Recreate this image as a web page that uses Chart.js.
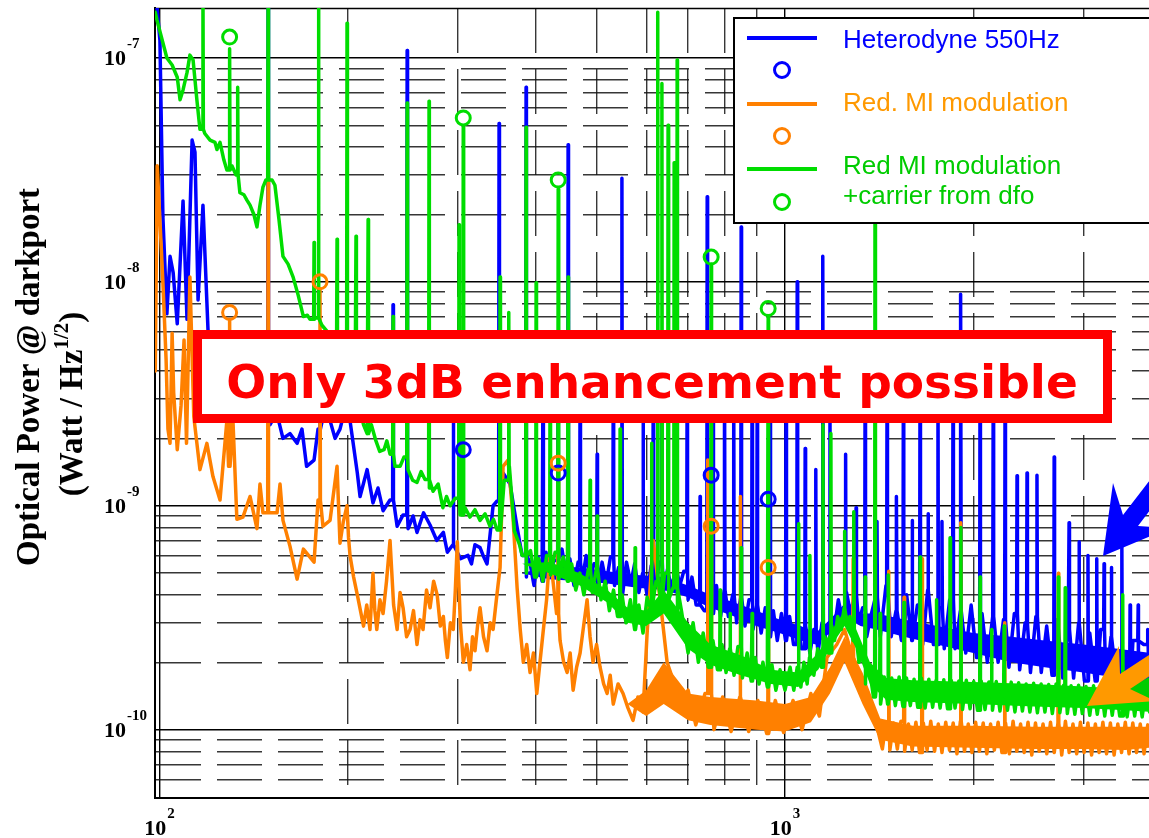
<!DOCTYPE html>
<html>
<head>
<meta charset="utf-8">
<title>Optical power at darkport</title>
<script src="https://cdn.jsdelivr.net/npm/chart.js@4.4.1/dist/chart.umd.min.js"></script>
<style>
  html, body { margin: 0; padding: 0; background: #fff; }
  canvas { display: block; }
</style>
</head>
<body>
<canvas id="spectrum" width="1149" height="838"></canvas>
<script>
// axis ranges: frequency in Hz, amplitude in Watt/sqrt(Hz)
const freqRange = [98.4, 3818];
const powerRange = [4.95e-11, 1.672e-7];
const xGrid = [100, 200, 300, 400, 500, 600, 700, 800, 900, 1000, 2000, 3000];
const yGrid = [6e-11, 7e-11, 8e-11, 9e-11,
  1e-10, 2e-10, 3e-10, 4e-10, 5e-10, 6e-10, 7e-10, 8e-10, 9e-10,
  1e-9, 2e-9, 3e-9, 4e-9, 5e-9, 6e-9, 7e-9, 8e-9, 9e-9,
  1e-8, 2e-8, 3e-8, 4e-8, 5e-8, 6e-8, 7e-8, 8e-8, 9e-8, 1e-7];
const xLabels = [100, 1000];
const yLabels = [1e-10, 1e-9, 1e-8, 1e-7];

// Heterodyne 550Hz: noise floor [Hz, value] and the narrow lines on top of it
const heterodyneFloor = [
  [98.5,1.7e-7],[99.1,1.7e-7],[100.2,1.2e-7],[101.3,1.95e-8],[102.8,7.2e-9],[104.0,1.3e-8],[105.2,1.1e-8],
  [106.8,6.5e-9],[109.1,2.3e-8],[110.7,6.8e-9],[112.8,4.3e-8],[114.0,3.8e-8],[115.3,8.3e-9],[117.4,2.2e-8],
  [119.6,6.1e-9],[122.7,4.8e-9],[127.3,4.0e-9],[132.1,3.4e-9],[137.0,2.9e-9],[144.8,2.4e-9],[147.5,2.8e-9],
  [150.2,2.3e-9],[154,2.6e-9],[157.6,2.0e-9],[161.7,2.1e-9],[166.0,1.9e-9],[169,2.2e-9],[171.9,1.5e-9],
  [176.7,1.6e-9],[179.3,2.2e-9],[183.3,2.6e-9],[187.4,2.4e-9],[190.9,2.0e-9],[194.4,2.2e-9],[198,2.7e-9],
  [201.7,2.4e-9],[207.2,1.4e-9],[209.3,1.1e-9],[214.8,1.45e-9],[219.5,1.03e-9],[223.6,1.2e-9],[227.8,9.5e-10],
  [233.7,1.06e-9],[239.9,8.1e-10],[245.2,9.1e-10],[249.8,7.9e-10],[254.4,9.0e-10],[258.1,7.6e-10],[264.4,9.3e-10],
  [270.8,8.2e-10],[277.6,7.0e-10],[284.4,7.6e-10],[288.6,6.2e-10],[295.0,6.7e-10],[303,5.8e-10],[311.4,6.0e-10],
  [315.4,5.5e-10],[319.5,6.7e-10],[325.5,6.5e-10],[330,5.9e-10],[334.0,5.5e-10],[341.5,1.0e-9],
  [346.6,1.05e-9],[354.3,1.4e-9],[363.5,1.25e-9],[373.1,8.0e-10],
  [380,6.0e-10],[386,4.8e-10],[391,5.6e-10],[397,4.4e-10],[403,5.9e-10],[409,4.6e-10],[415,6.2e-10],[421,4.8e-10],
  [427,5.7e-10],[434,4.5e-10],[440,6.4e-10],[447,4.9e-10],[453,5.8e-10],[460,4.4e-10],[467,5.6e-10],[474,4.6e-10],
  [481,6.0e-10],[488,4.7e-10],[495,5.5e-10],[503,4.2e-10],[510,5.6e-10],[518,4.5e-10],[526,5.9e-10],[534,4.4e-10],
  [542,5.3e-10],[550,4.0e-10],[558,5.6e-10],[567,4.5e-10],[575,5.5e-10],[584,4.1e-10],[593,5.0e-10],[602,4.0e-10],
  [611,5.4e-10],[620,4.3e-10],[630,5.6e-10],[639,4.1e-10],[649,5.2e-10],[659,4.2e-10],[669,5.4e-10],[679,4.4e-10],
  [689,5.1e-10],[700,3.8e-10],[710,4.8e-10],[721,3.6e-10],[732,4.6e-10],[743,3.4e-10],[754,4.5e-10],[765,3.3e-10],
  [777,4.4e-10],[789,3.2e-10],[800,4.2e-10],[812,3.2e-10],[825,4.0e-10],[837,3.0e-10],[850,3.9e-10],[863,2.9e-10],
  [876,3.8e-10],[889,2.8e-10],[902,3.6e-10],[916,2.7e-10],[930,3.5e-10],[944,2.6e-10],[958,3.4e-10],[972,2.5e-10],
  [987,3.3e-10],[1002,2.5e-10],[1017,3.2e-10],[1032,2.4e-10],[1048,3.1e-10],[1063,2.3e-10],[1079,2.9e-10],
  [1096,2.2e-10],[1112,2.8e-10],[1129,2.2e-10],[1146,3.0e-10],[1163,2.5e-10],[1181,3.4e-10],[1199,2.8e-10],
  [1217,3.8e-10],[1235,3.1e-10],[1254,4.1e-10],[1273,3.3e-10],[1292,4.0e-10],[1311,3.0e-10],[1331,3.5e-10],
  [1351,2.6e-10],[1371,3.2e-10],
  [1395,3.9e-10],[1420,2.6e-10],[1450,4.4e-10],[1478,2.6e-10],[1505,3.4e-10],[1535,2.5e-10],[1565,4.0e-10],
  [1596,2.5e-10],[1628,3.6e-10],[1660,2.4e-10],[1693,4.2e-10],[1727,2.4e-10],[1762,3.5e-10],[1797,2.3e-10],
  [1833,3.8e-10],[1870,2.3e-10],[1907,3.4e-10],[1945,2.2e-10],[1984,3.6e-10],[2024,2.1e-10],[2065,3.3e-10],
  [2106,2.0e-10],[2148,3.2e-10],[2191,2.0e-10],[2235,3.1e-10],[2280,1.9e-10],[2326,3.3e-10],[2372,1.85e-10],
  [2420,3.0e-10],[2468,1.8e-10],[2518,3.2e-10],[2568,1.8e-10],[2620,2.9e-10],[2672,1.75e-10],[2726,3.1e-10],
  [2780,1.7e-10],[2836,2.8e-10],[2893,1.7e-10],[2951,3.0e-10],[3010,1.65e-10],[3070,2.7e-10],[3132,1.65e-10],
  [3195,2.8e-10],[3259,1.6e-10],[3324,2.6e-10],[3391,1.6e-10],[3459,2.7e-10],[3528,1.55e-10],[3599,2.5e-10],
  [3671,1.55e-10],[3745,2.4e-10],[3820,1.5e-10]
];
const heterodyneLines = [
  [149.2,2e-7],[180.6,4e-9],[236.3,7.9e-9],[248.9,1.08e-7],[295.0,4e-9],[349.1,5.1e-8],[385.6,7.4e-8],
  [410.4,4e-9],[433.8,4.5e-9],[450.1,4.1e-8],[470.4,4e-9],[500.8,1.7e-9],[531.5,4.5e-9],[548.7,2.9e-8],
  [593.1,4e-9],[615.8,5e-9],[635.7,4e-9],[697.5,3.5e-9],[731.6,1.1e-9],[751,2.4e-8],[767.4,4.5e-9],
  [800.7,5e-9],[828,4e-9],[851,1.76e-8],[886,5.5e-9],[902.7,4e-9],[946.7,5e-9],[1004,4.5e-9],[1046,1.0e-8],
  [1077,1.8e-9],[1120,1.45e-9],[1150,1.3e-8],[1180,4e-9],[1250,1.7e-9],[1299,9.8e-10],[1343,4.5e-9],
  [1403,8.5e-10],[1456,3.8e-9],[1508,1.1e-9],[1546,4.2e-9],[1597,8.6e-10],[1644,4.6e-9],[1693,9.2e-10],
  [1756,4.8e-9],[1782,8.5e-10],[1856,4.1e-9],[1910,8.8e-9],[2050,4.4e-9],[2152,3.8e-9],[2248,4.3e-9],
  [2349,1.36e-9],[2437,1.4e-9],[2528,1.37e-9],[2693,1.65e-9],[2845,8.4e-10],[2951,6.9e-10],[3050,6.0e-10],
  [3150,5.8e-10],[3236,5.5e-10],[3325,5.3e-10],[3455,6.7e-10],[3561,3.6e-10],[3669,3.6e-10],[3800,2.8e-10]
];
const heterodyneBandFreq = [380, 420, 470, 520, 580, 640, 700, 760, 830, 900, 980, 1060, 1120, 1180, 1250, 1320, 1400, 1550, 1750, 2000, 2300, 2600, 3000, 3400, 3830];
const heterodyneBandHigh = [5.0e-10, 5.4e-10, 5.3e-10, 5.1e-10, 4.9e-10, 4.8e-10, 4.4e-10, 4.0e-10, 3.7e-10, 3.4e-10, 3.1e-10, 2.9e-10, 2.7e-10, 3.1e-10, 3.7e-10, 3.3e-10, 3.3e-10, 3.1e-10, 2.9e-10, 2.7e-10, 2.6e-10, 2.5e-10, 2.4e-10, 2.3e-10, 2.2e-10];
const heterodyneBandLow = [5.0e-10, 4.7e-10, 4.6e-10, 4.5e-10, 4.3e-10, 4.2e-10, 3.9e-10, 3.5e-10, 3.2e-10, 2.9e-10, 2.7e-10, 2.5e-10, 2.4e-10, 2.7e-10, 3.2e-10, 2.9e-10, 2.8e-10, 2.6e-10, 2.4e-10, 2.2e-10, 2.0e-10, 1.9e-10, 1.8e-10, 1.7e-10, 1.6e-10];
const heterodyneRings = [[306,1.78e-9],[434,1.4e-9],[762,1.37e-9],[940,1.07e-9]];

// Red. MI modulation
const redFloor = [
  [98.5,4.0e-9],[99.2,3.3e-8],[100.6,1.5e-8],[101.3,1.0e-8],[102.5,4.5e-9],[103.2,2.2e-9],[104.0,1.9e-9],
  [104.8,5.9e-9],[105.4,3.2e-9],[106.8,1.78e-9],[108.3,2.8e-9],[109.5,5.5e-9],[110.5,1.9e-9],[111.9,1.05e-8],
  [113.5,2.5e-9],[116.1,1.45e-9],[119.1,1.9e-9],[121.8,1.35e-9],[125.0,1.06e-9],[128.2,2.4e-9],[129.0,1.5e-9],
  [131.1,2.4e-9],[133.0,8.7e-10],[136.0,8.9e-10],[139.6,1.1e-9],[143.2,7.9e-10],[144.8,1.25e-9],[146.4,9.3e-10],
  [154.2,9.3e-10],[155.9,1.25e-9],[157.6,8.6e-10],[161.7,6.6e-10],[166.0,4.7e-10],[169.9,6.4e-10],[176.7,5.6e-10],
  [179.3,1.06e-9],[182.6,8.1e-10],[187.4,8.6e-10],[192.3,1.5e-9],[194.4,6.8e-10],[196.8,8.5e-10],[199.5,1.0e-9],
  [200.6,7.2e-10],[201.7,6.0e-10],[204.4,4.8e-10],[207.2,4.0e-10],[209.6,3.4e-10],[212.0,2.9e-10],[214.5,3.6e-10],
  [217.1,2.8e-10],[219.5,5.0e-10],[221.0,3.4e-10],[222.6,2.8e-10],[225.2,3.8e-10],[227.8,3.3e-10],[230.7,4.6e-10],
  [233.7,7.0e-10],[236.8,3.6e-10],[239.9,2.8e-10],[242.5,4.1e-10],[245.2,3.5e-10],[248.4,2.6e-10],[251.6,2.8e-10],
  [254.8,3.4e-10],[258.1,2.4e-10],[261,3.1e-10],[263.9,2.8e-10],[267.3,4.2e-10],[270.8,3.5e-10],[274.4,4.6e-10],
  [278.0,4.0e-10],[281.2,2.9e-10],[284.4,3.2e-10],[286.5,2.5e-10],[288.6,2.1e-10],[291.8,3.0e-10],[295.0,2.8e-10],
  [297.2,4.2e-10],[299.4,6.9e-10],[302.7,3.0e-10],[306.1,2.0e-10],[309.9,2.4e-10],[313.7,1.85e-10],[316.6,2.6e-10],
  [319.5,2.25e-10],[322.5,2.9e-10],[325.5,3.5e-10],[329.7,2.6e-10],[334.0,2.25e-10],[337.8,3.0e-10],[341.5,2.8e-10],
  [346,3.9e-10],[350.4,5.3e-10],[354.3,1.5e-9],[360.8,1.6e-9],[367.5,8.9e-10],[373.1,4.3e-10],[377.4,2.8e-10],
  [381.7,2.0e-10],[386.5,2.4e-10],[391.3,1.8e-10],[396.2,2.2e-10],[401.1,1.45e-10],[405.8,2.0e-10],[410.4,2.7e-10],
  [415.8,3.8e-10],[421.2,6.3e-10],[425.8,4.6e-10],[431.4,3.3e-10],[437.0,2.5e-10],[442.8,2.0e-10],[448.5,1.8e-10],
  [453.5,2.2e-10],[458.5,1.5e-10],[464.4,1.9e-10],[470.4,2.2e-10],[476.5,2.9e-10],[482.7,3.8e-10],[488,2.6e-10],
  [493.4,2.0e-10],[499.8,2.4e-10],[506.3,1.9e-10],[513,1.6e-10],[519.6,1.45e-10],[525.5,1.75e-10],[531.5,1.3e-10],
  [541,1.6e-10],[551.0,1.45e-10],[561,1.25e-10],[571.6,1.1e-10],[582,1.4e-10],[593.1,1.2e-10],[602.0,2.7e-10],
  [615.8,7.0e-10],[631.5,3.8e-10],[648.0,2.0e-10],[679.7,1.35e-10],[700,1.5e-10],[720,1.05e-10],[745,1.45e-10],
  [770,1.0e-10],[795,1.4e-10],[820,9.8e-11],[848,1.4e-10],[875,9.8e-11],[905,1.35e-10],[935,9.6e-11],[965,1.35e-10],
  [995,9.7e-11],[1030,1.35e-10],[1065,1.0e-10],[1100,1.45e-10],[1135,1.15e-10],[1167,2.1e-10],[1210,2.4e-10],
  [1245,2.8e-10],[1284,2.1e-10],[1333,1.45e-10],[1403,1.03e-10],[1431,8.2e-11],[1451,1.08e-10],[1471,8.1e-11],
  [1491,1.07e-10],[1512,8.2e-11],[1532,1.09e-10],[1554,8.0e-11],[1575,1.06e-10],[1597,8.1e-11],[1619,1.08e-10],
  [1641,7.9e-11],[1664,1.07e-10],[1687,8.1e-11],[1710,1.09e-10],[1734,8.0e-11],[1758,1.06e-10],[1782,7.9e-11],
  [1807,1.08e-10],[1832,8.1e-11],[1857,1.07e-10],[1883,7.8e-11],[1909,1.09e-10],[1936,8.0e-11],[1963,1.06e-10],
  [1990,7.9e-11],[2017,1.08e-10],[2045,8.0e-11],[2074,1.07e-10],[2102,7.8e-11],[2131,1.06e-10],[2161,8.1e-11],
  [2191,1.08e-10],[2222,7.9e-11],[2252,1.07e-10],[2284,7.8e-11],[2315,1.09e-10],[2347,8.0e-11],[2380,1.06e-10],
  [2412,7.9e-11],[2446,1.08e-10],[2480,7.7e-11],[2514,1.07e-10],[2549,8.0e-11],[2585,1.06e-10],[2621,7.8e-11],
  [2657,1.08e-10],[2694,7.9e-11],[2731,1.07e-10],[2769,7.7e-11],[2807,1.09e-10],[2846,7.9e-11],[2886,1.06e-10],
  [2926,7.8e-11],[2966,1.08e-10],[3007,7.9e-11],[3049,1.07e-10],[3091,7.7e-11],[3134,1.06e-10],[3178,7.9e-11],
  [3222,1.08e-10],[3266,7.8e-11],[3312,1.07e-10],[3358,7.7e-11],[3404,1.06e-10],[3451,7.9e-11],[3499,1.08e-10],
  [3548,7.8e-11],[3597,1.07e-10],[3647,7.9e-11],[3697,1.06e-10],[3749,7.8e-11],[3800,1.05e-10],[3826,8.5e-11]
];
const redLines = [
  [129.5,6.8e-9],[149.2,3.0e-8],[180.6,9.3e-9],[434,1.46e-9],[752,1.6e-9],[762,7.5e-10],[848,1.1e-9],
  [940,4.9e-10],[1285,5.8e-10],[1465,5.1e-10],[1550,3.9e-10],[1656,5.8e-10],[1910,8.4e-10],[2245,3.0e-10],
  [2735,5.0e-10]
];
const redBandFreq = [560, 600, 640, 700, 760, 900, 1000, 1100, 1180, 1245, 1330, 1420, 1600, 2000, 2500, 3000, 3500, 3830];
const redBandHigh = [1.3e-10, 1.5e-10, 2.0e-10, 1.45e-10, 1.4e-10, 1.35e-10, 1.3e-10, 1.4e-10, 1.9e-10, 2.6e-10, 1.8e-10, 1.12e-10, 1.04e-10, 1.04e-10, 1.03e-10, 1.03e-10, 1.03e-10, 1.03e-10];
const redBandLow = [1.3e-10, 1.15e-10, 1.3e-10, 1.1e-10, 1.05e-10, 1.0e-10, 9.8e-11, 1.08e-10, 1.45e-10, 2.0e-10, 1.3e-10, 9.0e-11, 8.4e-11, 8.3e-11, 8.2e-11, 8.2e-11, 8.1e-11, 8.3e-11];
const redRings = [[129.5,7.3e-9],[180.6,1.0e-8],[434,1.55e-9],[762,8.1e-10],[940,5.3e-10]];

// Red MI modulation + carrier from dfo
const carrierFloor = [
  [98.5,1.6e-7],[99.1,1.48e-7],[102.8,1.0e-7],[104.8,9.3e-8],[106.8,8.2e-8],[107.9,6.5e-8],[109.1,7.2e-8],
  [110.7,8.6e-8],[111.9,1.03e-7],[113.2,9.8e-8],[114.8,6.5e-8],[116.1,4.8e-8],[118.2,4.6e-8],[120.5,4.3e-8],
  [122.7,4.2e-8],[123.6,3.9e-8],[125.0,4.2e-8],[126.8,3.5e-8],[128.2,3.16e-8],[130.6,3.3e-8],[132.6,3.0e-8],
  [134.5,2.5e-8],[136.5,2.45e-8],[138.0,2.32e-8],[139.6,2.2e-8],[141.6,2.0e-8],[143.2,1.76e-8],[144.8,2.2e-8],
  [146.4,2.65e-8],[148.0,2.85e-8],[151.4,2.85e-8],[153.0,2.7e-8],[155.3,1.9e-8],[157.6,1.3e-8],[160.6,1.2e-8],
  [163.6,1.05e-8],[166.7,8.7e-9],[169.9,7.0e-9],[172.4,7.1e-9],[174.1,6.8e-9],[177.4,6.9e-9],[181.9,6.4e-9],
  [187.4,5.8e-9],[194.4,4.7e-9],[201.7,3.7e-9],[205.5,3.1e-9],[209.3,2.7e-9],[212,2.3e-9],[214.8,2.1e-9],
  [218.2,2.3e-9],[221.6,1.97e-9],[225,1.75e-9],[228.6,1.78e-9],[231,1.95e-9],[233.7,1.7e-9],[238,1.5e-9],
  [242.5,1.5e-9],[246,1.65e-9],[249.7,1.45e-9],[254,1.3e-9],[258.1,1.27e-9],[262,1.42e-9],[265.8,1.31e-9],
  [270,1.2e-9],[273.8,1.16e-9],[279,1.25e-9],[283.9,9.8e-10],[287.7,1.1e-9],[291.5,1.0e-9],[297,1.08e-9],
  [302.4,9.1e-10],[308,9.8e-10],[313.7,8.9e-10],[319.5,9.6e-10],[325.5,8.6e-10],[331.6,9.2e-10],[337.7,8.1e-10],
  [342,8.7e-10],[346.6,7.8e-10],[355.8,1.3e-9],[362.6,1.5e-9],[369.4,7.7e-10],[376.4,6.7e-10],
  [380,6.0e-10],[386,5.0e-10],[392,6.3e-10],[398,4.8e-10],[404,5.8e-10],[410,4.6e-10],[416,6.0e-10],[422,4.9e-10],
  [429,6.2e-10],[435,4.7e-10],[442,5.9e-10],[449,4.6e-10],[456,5.5e-10],[463,4.2e-10],[470,5.0e-10],[477,4.0e-10],
  [485,5.2e-10],[492,4.1e-10],[500,5.3e-10],[508,3.8e-10],[516,4.6e-10],[524,3.4e-10],[532,4.2e-10],[540,3.2e-10],
  [549,4.0e-10],[557,3.0e-10],[566,3.8e-10],[575,2.8e-10],[584,3.6e-10],[593,2.7e-10],[602,3.9e-10],[612,3.4e-10],
  [622,4.6e-10],[632,3.9e-10],[642,5.0e-10],[652,3.8e-10],[662,4.3e-10],[673,3.2e-10],[683,3.4e-10],
  [700,2.2e-10],[713,3.0e-10],[727,2.0e-10],
  [740,2.7e-10],[754,1.9e-10],[767,2.5e-10],[780,1.85e-10],[793,2.4e-10],[805,1.8e-10],[817,2.3e-10],
  [829,1.75e-10],[841,2.35e-10],[855,1.7e-10],[870,2.2e-10],[883,1.65e-10],[896,2.1e-10],[909,1.6e-10],
  [922,2.0e-10],[937,1.55e-10],[953,1.95e-10],[967,1.5e-10],[982,1.85e-10],[1000,1.5e-10],[1019,1.9e-10],
  [1033,1.5e-10],[1046,1.9e-10],[1060,1.55e-10],[1072,2.0e-10],[1085,1.6e-10],[1096,2.1e-10],[1112,1.75e-10],
  [1128,2.3e-10],[1143,1.9e-10],[1158,2.6e-10],[1173,2.2e-10],[1188,2.9e-10],[1200,2.5e-10],[1214,3.2e-10],
  [1230,2.8e-10],[1245,3.5e-10],[1258,2.9e-10],[1270,3.2e-10],[1285,2.5e-10],[1299,2.6e-10],[1313,2.0e-10],
  [1328,2.1e-10],[1345,1.6e-10],[1367,1.8e-10],[1385,1.4e-10],[1403,1.65e-10],[1422,1.3e-10],[1441,1.72e-10],
  [1461,1.3e-10],[1481,1.7e-10],[1501,1.28e-10],[1522,1.72e-10],[1543,1.27e-10],[1564,1.7e-10],[1586,1.28e-10],
  [1608,1.68e-10],[1630,1.26e-10],[1652,1.7e-10],[1675,1.25e-10],[1698,1.68e-10],[1722,1.26e-10],[1746,1.66e-10],
  [1770,1.25e-10],[1794,1.67e-10],[1819,1.24e-10],[1844,1.66e-10],[1870,1.25e-10],[1896,1.65e-10],[1922,1.23e-10],
  [1949,1.66e-10],[1976,1.24e-10],[2003,1.64e-10],[2031,1.22e-10],[2059,1.65e-10],[2088,1.23e-10],[2117,1.63e-10],
  [2146,1.22e-10],[2176,1.64e-10],[2206,1.21e-10],[2237,1.62e-10],[2268,1.22e-10],[2299,1.63e-10],[2331,1.2e-10],
  [2363,1.62e-10],[2396,1.21e-10],[2429,1.6e-10],[2463,1.2e-10],[2497,1.61e-10],[2532,1.19e-10],[2567,1.6e-10],
  [2603,1.2e-10],[2639,1.59e-10],[2675,1.18e-10],[2712,1.6e-10],[2750,1.19e-10],[2788,1.58e-10],[2827,1.18e-10],
  [2866,1.57e-10],[2906,1.17e-10],[2946,1.58e-10],[2987,1.18e-10],[3028,1.56e-10],[3070,1.16e-10],[3113,1.57e-10],
  [3156,1.17e-10],[3200,1.55e-10],[3244,1.15e-10],[3289,1.56e-10],[3335,1.16e-10],[3381,1.54e-10],[3428,1.15e-10],
  [3475,1.55e-10],[3523,1.14e-10],[3572,1.53e-10],[3622,1.15e-10],[3672,1.52e-10],[3723,1.14e-10],[3774,1.5e-10],
  [3826,1.2e-10]
];
const carrierLines = [
  [117.4,2e-7],[129.5,1.1e-7],[133.4,7.4e-8],[149.2,2e-7],[176.7,1.5e-8],[179.6,2e-7],[192.3,1.55e-8],
  [199.5,1.43e-7],[206.2,1.6e-8],[215.6,1.9e-8],[236.3,7e-9],[248.9,6.3e-8],[269.8,6.4e-8],[301.3,1.8e-8],
  [306,4.9e-8],[350.4,1.05e-8],[361.8,7.3e-9],[385.6,4.9e-8],[400.1,9.9e-9],[421.2,4e-9],[434,2.6e-8],
  [450.1,1.05e-8],[488,1.3e-9],[500.8,9e-10],[545,2.2e-9],[576,6.5e-10],[612,1.9e-9],[626,1.6e-7],
  [635.7,7.7e-8],[650.3,5e-8],[665,3.4e-8],[672.4,9.8e-8],[762,1.2e-8],[787.5,4.2e-10],[817,3.3e-10],
  [851,6.5e-10],[886,3.3e-10],[940,7e-9],[1051,8.3e-10],[1096,6e-10],[1150,2.3e-9],[1184,2.1e-9],
  [1245,7.7e-10],[1289,9.4e-10],[1343,4.8e-10],[1393,5e-8],[1419,3.3e-10],[1461,4.9e-10],[1550,3.7e-10],
  [1644,5.9e-10],[1746,3.8e-10],[1836,7.2e-10],[1910,8e-10],[2050,4.8e-10],[2139,2.8e-10],[2240,2.9e-10],
  [2735,4.8e-10],[2805,4.3e-10],[3466,4e-10]
];
const carrierBandFreq = [380, 420, 470, 520, 560, 600, 640, 700, 760, 850, 950, 1050, 1130, 1190, 1245, 1300, 1367, 1450, 1600, 2000, 2500, 3000, 3500, 3830];
const carrierBandHigh = [5.5e-10, 5.6e-10, 5.0e-10, 4.2e-10, 3.5e-10, 3.4e-10, 4.2e-10, 3.0e-10, 2.4e-10, 2.15e-10, 1.85e-10, 1.8e-10, 2.2e-10, 2.8e-10, 3.4e-10, 2.8e-10, 2.0e-10, 1.7e-10, 1.66e-10, 1.63e-10, 1.6e-10, 1.56e-10, 1.52e-10, 1.5e-10];
const carrierBandLow = [5.5e-10, 5.0e-10, 4.4e-10, 3.7e-10, 3.0e-10, 2.9e-10, 3.3e-10, 2.3e-10, 1.95e-10, 1.75e-10, 1.6e-10, 1.55e-10, 1.85e-10, 2.4e-10, 2.9e-10, 2.3e-10, 1.6e-10, 1.36e-10, 1.33e-10, 1.3e-10, 1.27e-10, 1.25e-10, 1.22e-10, 1.2e-10];
const carrierRings = [[129.5,1.24e-7],[306,5.4e-8],[434,2.85e-8],[762,1.29e-8],[940,7.6e-9]];

const BLUE = '#0000ff', ORANGE = '#ff8000', GREEN = '#00dd00';

const legendRows = [
  { kind: 'line', color: BLUE, text: 'Heterodyne 550Hz', textColor: '#0000ff' },
  { kind: 'ring', color: BLUE },
  { kind: 'line', color: ORANGE, text: 'Red. MI modulation', textColor: '#ff9900' },
  { kind: 'ring', color: ORANGE },
  { kind: 'line', color: GREEN, text: 'Red MI modulation', textColor: '#00cc00' },
  { kind: 'ring', color: GREEN, text: '+carrier from dfo', textColor: '#00cc00' }
];

// floor points plus a thin rise for every line, all sorted by frequency
function trace(floor, lines) {
  const pts = floor.map(([x, y]) => ({ x, y }));
  for (const [f, peak] of lines) {
    let foot = floor[0][1];
    for (const [ff, v] of floor) { if (ff <= f) foot = v; else break; }
    pts.push({ x: f * 0.9985, y: foot }, { x: f, y: peak }, { x: f * 1.0015, y: foot });
  }
  return pts.sort((a, b) => a.x - b.x);
}
const toPoints = list => list.map(([x, y]) => ({ x, y }));
const zipBand = (freqs, vals) => freqs.map((x, i) => ({ x, y: vals[i] }));

function lineSet(data, color, order) {
  return {
    data, order, showLine: true, borderColor: color, backgroundColor: color,
    borderWidth: 3.5, pointRadius: 0, pointHoverRadius: 0,
    borderJoinStyle: 'round', borderCapStyle: 'round', fill: false
  };
}
// solid core of the dense noise, filled between an upper and a lower edge
function bandSets(freqs, hi, lo, color, order) {
  const edge = { showLine: true, pointRadius: 0, borderWidth: 1, borderColor: 'rgba(0,0,0,0)', order };
  return [
    Object.assign({ data: zipBand(freqs, hi), fill: false }, edge),
    Object.assign({ data: zipBand(freqs, lo), fill: '-1', backgroundColor: color }, edge)
  ];
}
function ringSet(list, color, order) {
  return {
    data: toPoints(list), order, showLine: false, pointStyle: 'circle',
    pointRadius: 7, pointBorderWidth: 3, borderColor: color,
    pointBorderColor: color, pointBackgroundColor: 'rgba(0,0,0,0)'
  };
}

const isDecade = v => Math.abs(Math.log10(v) - Math.round(Math.log10(v))) < 1e-6;
const gridColor = c => (c.tick && isDecade(c.tick.value)) ? '#000' : 'rgba(20,20,20,0.85)';
const gridDash = c => (c.tick && !isDecade(c.tick.value)) ? [45, 16] : [];

function arrow(ctx, color, pts) {
  ctx.fillStyle = color;
  ctx.beginPath();
  ctx.moveTo(pts[0][0], pts[0][1]);
  for (let i = 1; i < pts.length; i++) ctx.lineTo(pts[i][0], pts[i][1]);
  ctx.closePath();
  ctx.fill();
}

function powerOfTen(ctx, exp, x, base, align) {
  ctx.font = 'bold 22px "Liberation Serif"';
  const w1 = ctx.measureText('10').width;
  ctx.font = 'bold 15px "Liberation Serif"';
  const w2 = ctx.measureText(exp).width;
  const start = align === 'center' ? x - (w1 + w2 + 1) / 2 : x;
  ctx.textAlign = 'left';
  ctx.font = 'bold 22px "Liberation Serif"';
  ctx.fillText('10', start, base);
  ctx.font = 'bold 15px "Liberation Serif"';
  ctx.fillText(exp, start + w1 + 1, base - 17);
}

const decorations = {
  id: 'decorations',
  beforeDatasetsDraw(chart) {
    const { ctx, chartArea: a } = chart;
    ctx.save();
    ctx.strokeStyle = '#000';
    ctx.lineWidth = 1.5;
    ctx.beginPath();
    ctx.moveTo(a.left, a.top + 0.5);
    ctx.lineTo(a.right, a.top + 0.5);
    ctx.stroke();
    ctx.restore();
  },
  afterDatasetsDraw(chart) {
    const { ctx } = chart;
    ctx.save();

    // statement box
    ctx.fillStyle = '#fff';
    ctx.fillRect(193, 330, 919, 93);
    ctx.strokeStyle = '#ff0000';
    ctx.lineWidth = 9;
    ctx.strokeRect(197.5, 334.5, 910, 84);
    ctx.fillStyle = '#ff0000';
    ctx.font = 'bold 47px "DejaVu Sans"';
    ctx.textAlign = 'center';
    ctx.textBaseline = 'alphabetic';
    ctx.fillText('Only 3dB enhancement possible', 652, 398);

    // legend
    ctx.fillStyle = '#fff';
    ctx.fillRect(733, 18, 430, 205);
    ctx.strokeStyle = '#000';
    ctx.lineWidth = 2;
    ctx.strokeRect(734, 18, 430, 205);
    const rowY = [38, 70, 104, 136, 169, 202];
    const textY = [48, null, 111, null, 174, 204];
    legendRows.forEach((row, i) => {
      ctx.strokeStyle = row.color;
      if (row.kind === 'line') {
        ctx.lineWidth = 4;
        ctx.beginPath();
        ctx.moveTo(747, rowY[i]);
        ctx.lineTo(817, rowY[i]);
        ctx.stroke();
      } else {
        ctx.lineWidth = 3;
        ctx.beginPath();
        ctx.arc(782, rowY[i], 7.5, 0, Math.PI * 2);
        ctx.stroke();
      }
      if (row.text) {
        ctx.fillStyle = row.textColor;
        ctx.font = '26px "Liberation Sans"';
        ctx.textAlign = 'left';
        ctx.fillText(row.text, 843, textY[i]);
      }
    });

    // pointers at the right edge
    arrow(ctx, '#00cc00', [[1126, 689], [1175, 664], [1175, 714]]);
    arrow(ctx, '#ff9900', [[1087, 706], [1119, 646], [1120, 674], [1245, 592], [1255, 607], [1130, 689], [1155, 701]]);
    arrow(ctx, '#0000ff', [[1103, 556], [1113, 483], [1123, 515], [1215, 396], [1229, 407], [1138, 526], [1170, 528]]);
    ctx.restore();
  },
  afterDraw(chart) {
    const { ctx, scales: { x, y } } = chart;
    ctx.save();
    ctx.fillStyle = '#000';
    ctx.textBaseline = 'alphabetic';
    yLabels.forEach(v => {
      powerOfTen(ctx, String(Math.round(Math.log10(v))), 104, y.getPixelForValue(v) + 7, 'left');
    });
    xLabels.forEach(v => {
      powerOfTen(ctx, String(Math.round(Math.log10(v))), x.getPixelForValue(v), 835, 'center');
    });

    // axis title, two rotated lines
    ctx.font = 'bold 33px "Liberation Serif"';
    ctx.translate(39, 377);
    ctx.rotate(-Math.PI / 2);
    ctx.textAlign = 'center';
    ctx.fillText('Optical Power @ darkport', 0, 0);
    ctx.rotate(Math.PI / 2);
    ctx.translate(-39, -377);

    ctx.translate(82, 404);
    ctx.rotate(-Math.PI / 2);
    ctx.textAlign = 'left';
    const partA = '(Watt / Hz', partB = '1/2', partC = ')';
    ctx.font = 'bold 33px "Liberation Serif"';
    const wa = ctx.measureText(partA).width, wc = ctx.measureText(partC).width;
    ctx.font = 'bold 21px "Liberation Serif"';
    const wb = ctx.measureText(partB).width;
    let cx = -(wa + wb + wc) / 2;
    ctx.font = 'bold 33px "Liberation Serif"';
    ctx.fillText(partA, cx, 0);
    cx += wa;
    ctx.font = 'bold 21px "Liberation Serif"';
    ctx.fillText(partB, cx, -14);
    cx += wb;
    ctx.font = 'bold 33px "Liberation Serif"';
    ctx.fillText(partC, cx, 0);
    ctx.restore();
  }
};

new Chart(document.getElementById('spectrum').getContext('2d'), {
  type: 'scatter',
  data: {
    datasets: [
      ...bandSets(heterodyneBandFreq, heterodyneBandHigh, heterodyneBandLow, BLUE, 10),
      lineSet(trace(heterodyneFloor, heterodyneLines), BLUE, 10),
      ...bandSets(redBandFreq, redBandHigh, redBandLow, ORANGE, 9),
      lineSet(trace(redFloor, redLines), ORANGE, 8),
      ...bandSets(carrierBandFreq, carrierBandHigh, carrierBandLow, GREEN, 7),
      lineSet(trace(carrierFloor, carrierLines), GREEN, 6),
      ringSet(heterodyneRings, BLUE, 3),
      ringSet(redRings, ORANGE, 2),
      ringSet(carrierRings, GREEN, 1)
    ]
  },
  options: {
    responsive: false,
    animation: false,
    events: [],
    layout: { padding: { top: 8, left: 0, right: 0, bottom: 0 }, autoPadding: false },
    plugins: { legend: { display: false }, tooltip: { enabled: false } },
    scales: {
      x: {
        type: 'logarithmic',
        min: freqRange[0], max: freqRange[1],
        afterBuildTicks: axis => { axis.ticks = xGrid.map(value => ({ value })); },
        afterFit: axis => { axis.height = 40; },
        ticks: { display: false },
        grid: { drawTicks: false, color: gridColor, lineWidth: 1.4 },
        border: { display: true, color: '#000', width: 2, dash: gridDash }
      },
      y: {
        type: 'logarithmic',
        min: powerRange[0], max: powerRange[1],
        afterBuildTicks: axis => { axis.ticks = yGrid.map(value => ({ value })); },
        afterFit: axis => { axis.width = 155; },
        ticks: { display: false },
        grid: { drawTicks: false, color: gridColor, lineWidth: 1.4 },
        border: { display: true, color: '#000', width: 2, dash: gridDash }
      }
    }
  },
  plugins: [decorations]
});
</script>
</body>
</html>
